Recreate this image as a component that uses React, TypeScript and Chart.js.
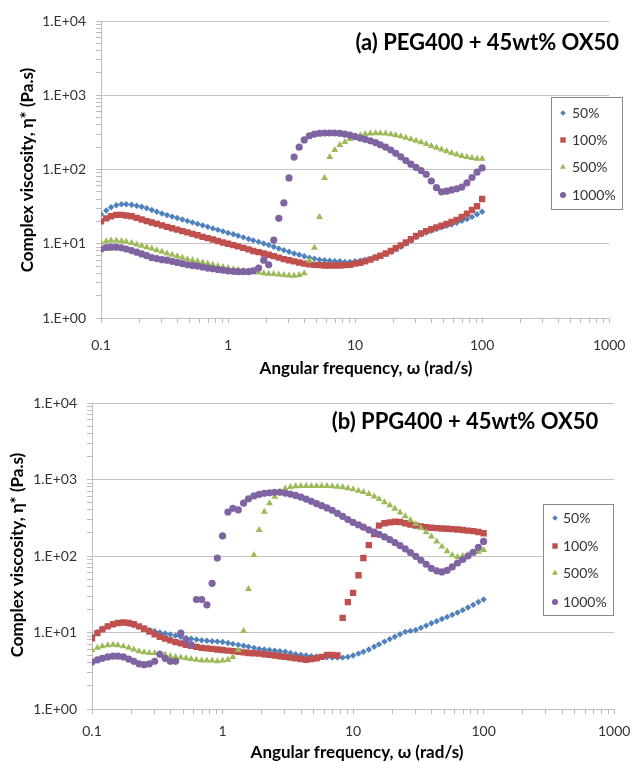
import React, { useEffect, useRef } from 'react';
import { Chart, registerables } from 'chart.js';

Chart.register(...registerables);

// ---------- data ----------
const freq = [
  0.1, 0.11, 0.12, 0.132, 0.145, 0.158, 0.174, 0.191, 0.209, 0.229,
  0.251, 0.275, 0.302, 0.331, 0.363, 0.398, 0.437, 0.479, 0.525, 0.575,
  0.631, 0.692, 0.759, 0.832, 0.912, 1, 1.1, 1.2, 1.32, 1.45,
  1.58, 1.74, 1.91, 2.09, 2.29, 2.51, 2.75, 3.02, 3.31, 3.63,
  3.98, 4.37, 4.79, 5.25, 5.75, 6.31, 6.92, 7.59, 8.32, 9.12,
  10, 11, 12, 13.2, 14.5, 15.8, 17.4, 19.1, 20.9, 22.9,
  25.1, 27.5, 30.2, 33.1, 36.3, 39.8, 43.7, 47.9, 52.5, 57.5,
  63.1, 69.2, 75.9, 83.2, 91.2, 100,
];

// (a) PEG400 + 45wt% OX50
const peg50 = [
  25, 28, 31, 33, 34, 34, 33.5, 32.5, 31.5, 30,
  28.5, 27, 25.5, 24.3, 23.2, 22.2, 21.2, 20.3, 19.4, 18.5,
  17.7, 16.9, 16.1, 15.4, 14.7, 14, 13.4, 12.8, 12.2, 11.6,
  11.1, 10.6, 10.1, 9.6, 9.1, 8.6, 8.2, 7.8, 7.4, 7.1,
  6.8, 6.5, 6.3, 6.1, 6.0, 5.9, 5.8, 5.8, 5.7, 5.7,
  5.8, 5.9, 6.1, 6.3, 6.6, 6.9, 7.3, 7.8, 8.4, 9.1,
  10, 11, 12.2, 13.3, 14.2, 15, 15.8, 16.6, 17.4, 18.2,
  19.2, 20.3, 21.5, 23, 25, 27,
];
const peg100 = [
  20, 22, 23.5, 24.5, 24.5, 24, 23.5, 22.3, 21.2, 20.2,
  19.3, 18.5, 17.7, 16.9, 16.2, 15.5, 14.8, 14.2, 13.6, 13.0,
  12.4, 11.9, 11.4, 10.9, 10.4, 10.0, 9.6, 9.2, 8.8, 8.4,
  8.0, 7.7, 7.4, 7.1, 6.8, 6.5, 6.2, 6.0, 5.8, 5.6,
  5.4, 5.3, 5.2, 5.15, 5.1, 5.1, 5.1, 5.1, 5.15, 5.2,
  5.4, 5.55, 5.8, 6.1, 6.5, 6.9, 7.4, 8.0, 8.7, 9.5,
  10.4, 11.5, 12.7, 13.8, 14.8, 15.7, 16.6, 17.5, 18.5, 19.7,
  21, 23, 25.5, 28.5, 32, 40,
];
const peg500 = [
  10.3, 10.8, 11.1, 11.1, 10.9, 10.6, 10.2, 9.8, 9.4, 9.0,
  8.6, 8.2, 7.8, 7.4, 7.1, 6.8, 6.5, 6.2, 6.0, 5.8,
  5.6, 5.4, 5.2, 5.0, 4.85, 4.7, 4.55, 4.45, 4.35, 4.25,
  4.15, 4.1, 4.0, 3.95, 3.9, 3.85, 3.8, 3.75, 3.7, 3.8,
  4.0, 5.9, 8.8, 23, 77, 147, 183, 214, 235, 257,
  273, 290, 300, 305, 308, 308, 305, 298, 290, 280,
  268, 256, 244, 232, 220, 208, 197, 186, 176, 167,
  159, 152, 147, 143, 140, 140,
];
const peg1000 = [
  8.5, 8.9, 9.0, 9.0, 8.8, 8.5, 8.1, 7.7, 7.3, 6.9,
  6.5, 6.3, 6.1, 6.0, 5.8, 5.6, 5.4, 5.2, 5.1, 5.0,
  4.85, 4.7, 4.6, 4.5, 4.4, 4.3, 4.25, 4.2, 4.2, 4.2,
  4.3, 4.7, 6.0, 5.2, 11.2, 22, 35.5, 77, 147, 200,
  250, 285, 300, 308, 310, 310, 310, 308, 300, 290,
  278, 265, 255, 243, 230, 215, 200, 183, 165, 148,
  132, 118, 107, 97, 86, 70, 57, 50, 51, 53,
  55, 58, 66, 78, 92, 105,
];

// (b) PPG400 + 45wt% OX50
const ppg50 = [
  9.0, 10.2, 11.2, 12.1, 12.8, 13.2, 13.3, 13.0, 12.5, 11.9,
  11.3, 10.8, 10.4, 10.0, 9.7, 9.4, 9.1, 8.8, 8.5, 8.3,
  8.1, 7.9, 7.8, 7.7, 7.6, 7.5, 7.3, 7.1, 6.9, 6.7,
  6.5, 6.3, 6.1, 6.0, 5.9, 5.8, 5.7, 5.6, 5.4, 5.2,
  5.1, 5.0, 4.9, 4.85, 4.8, 4.75, 4.7, 4.7, 4.7, 4.8,
  5.0, 5.3, 5.6, 6.0, 6.5, 7.0, 7.6, 8.2, 8.8, 9.5,
  10.2, 10.5, 10.8, 11.5, 12.3, 13.2, 14.0, 15.0, 16.0, 17.0,
  18.2, 19.6, 21.2, 23, 25, 27,
];
const ppg100 = [
  8.4, 9.8, 11, 12, 12.8, 13.3, 13.5, 13.3, 12.8, 12.0,
  11.2, 10.3, 9.5, 8.8, 8.3, 7.9, 7.5, 7.2, 6.9, 6.7,
  6.5, 6.3, 6.2, 6.1, 6.0, 5.9, 5.8, 5.7, 5.6, 5.5,
  5.4, 5.35, 5.3, 5.2, 5.1, 5.0, 4.9, 4.8, 4.7, 4.6,
  4.5, 4.4, 4.5, 4.6, 4.8, 5.1, 5.1, 5.0, 15.5, 25,
  33, 56, 94, 139, 194, 250, 268, 275, 280, 278,
  268, 258, 250, 243, 238, 234, 231, 229, 227, 225,
  222, 219, 215, 211, 206, 198,
];
const ppg500 = [
  5.9, 6.3, 6.6, 6.8, 6.9, 6.8, 6.6, 6.3, 6.0, 5.7,
  5.5, 5.4, 5.4, 5.3, 5.1, 4.9, 4.8, 4.7, 4.6, 4.5,
  4.4, 4.3, 4.3, 4.3, 4.2, 4.3, 4.4, 4.8, 5.9, 10.5,
  37, 103, 218, 380, 490, 595, 690, 765, 800, 815,
  820, 825, 825, 825, 825, 820, 815, 805, 790, 770,
  745, 715, 685, 645, 600, 555, 505, 460, 415, 370,
  330, 295, 262, 232, 205, 180, 155, 133, 115, 102,
  97, 100, 104, 108, 113, 120,
];
const ppg1000 = [
  4.1, 4.4, 4.6, 4.8, 4.9, 4.9, 4.8, 4.5, 4.2, 3.9,
  3.8, 3.9, 4.2, 5.2, 4.6, 4.2, 4.2, 9.8, 8.0, 6.9,
  27, 27, 23, 44, 94, 183, 376, 420, 400, 490,
  560, 610, 640, 660, 670, 680, 680, 665, 645, 620,
  590, 555, 520, 485, 455, 425, 395, 360, 330, 300,
  275, 255, 238, 220, 206, 192, 178, 164, 150, 137,
  124, 111, 99, 88, 78, 69, 64, 62, 65, 72,
  81, 90, 100, 112, 130, 155,
];

const seriesLabels = ['50%', '100%', '500%', '1000%'];
const xTickLabels = ['0.1', '1', '10', '100', '1000'];
const yTickLabels = ['1.E+00', '1.E+01', '1.E+02', '1.E+03', '1.E+04'];
const xAxisTitle = 'Angular frequency, \u03c9 (rad/s)';
const yAxisTitle = 'Complex viscosity, \u03b7* (Pa.s)';
const titleA = '(a) PEG400 + 45wt% OX50';
const titleB = '(b) PPG400 + 45wt% OX50';

// ---------- styles ----------
const COLORS = ['#4F81BD', '#C0504D', '#9BBB59', '#8064A2'];
const SHAPES = ['rectRot', 'rect', 'triangle', 'circle'];
const RADII = [3.2, 4.5, 4, 3.6];
const FONT = 'Lato, "Noto Sans", sans-serif';
const GRID = '#c4c4c4';
const AXIS = '#bdbdbd';

const W = 639;
const H = 381;

type Panel = {
  left: number; right: number; plotTop: number; plotBottom: number;
  xTickPad: number;
  xTitleX: number; xTitleY: number; yTitleX: number; yTitleY: number;
  title: string; titleX: number; titleY: number; titleAlign: CanvasTextAlign;
  legX: number; legY: number; legW: number; legH: number; rows: number[];
  markX: number; textX: number;
};

const panelA: Panel = {
  left: 101, right: 616, plotTop: 21, plotBottom: 318,
  xTickPad: 13.6,
  xTitleX: 366, xTitleY: 369, yTitleX: 28, yTitleY: 170,
  title: titleA, titleX: 619, titleY: 43, titleAlign: 'right',
  legX: 551, legY: 97, legW: 71, legH: 112, rows: [113, 140, 167, 195],
  markX: 563, textX: 572,
};
const panelB: Panel = {
  left: 92, right: 623, plotTop: 22, plotBottom: 328,
  xTickPad: 8.6,
  xTitleX: 357, xTitleY: 372, yTitleX: 18, yTitleY: 174,
  title: titleB, titleX: 465, titleY: 41, titleAlign: 'center',
  legX: 543, legY: 123, legW: 70, legH: 111, rows: [137, 165, 192, 221],
  markX: 555, textX: 563,
};

function logTicks(minExp: number, maxExp: number): number[] {
  const out: number[] = [];
  for (let e = minExp; e < maxExp; e++) {
    for (let m = 1; m <= 9; m++) out.push(m * Math.pow(10, e));
  }
  out.push(Math.pow(10, maxExp));
  return out;
}
function decadeIndex(v: number): number | null {
  const l = Math.log10(v);
  const r = Math.round(l);
  return Math.abs(l - r) < 1e-6 ? r : null;
}

function drawMarker(ctx: CanvasRenderingContext2D, shape: string, x: number, y: number, r: number) {
  ctx.beginPath();
  if (shape === 'circle') {
    ctx.arc(x, y, r, 0, Math.PI * 2);
  } else if (shape === 'rect') {
    const s = r * Math.SQRT1_2;
    ctx.rect(x - s, y - s, 2 * s, 2 * s);
  } else if (shape === 'rectRot') {
    ctx.moveTo(x, y - r); ctx.lineTo(x + r, y); ctx.lineTo(x, y + r); ctx.lineTo(x - r, y);
    ctx.closePath();
  } else if (shape === 'triangle') {
    for (let k = 0; k < 3; k++) {
      const a = (k * 2 * Math.PI) / 3;
      const px = x + Math.sin(a) * r;
      const py = y - Math.cos(a) * r;
      if (k === 0) ctx.moveTo(px, py); else ctx.lineTo(px, py);
    }
    ctx.closePath();
  }
  ctx.fill();
}

function makeOverlay(p: Panel) {
  return {
    id: 'overlay',
    afterDraw(chart: any) {
      const ctx: CanvasRenderingContext2D = chart.ctx;
      ctx.save();
      // axis titles
      ctx.fillStyle = '#000';
      ctx.font = `bold 17px ${FONT}`;
      ctx.textAlign = 'center';
      ctx.textBaseline = 'middle';
      ctx.fillText(xAxisTitle, p.xTitleX, p.xTitleY);
      ctx.save();
      ctx.translate(p.yTitleX, p.yTitleY);
      ctx.rotate(-Math.PI / 2);
      ctx.fillText(yAxisTitle, 0, 0);
      ctx.restore();
      // panel title
      ctx.font = `bold 22px ${FONT}`;
      ctx.fillStyle = '#000';
      ctx.textAlign = p.titleAlign;
      ctx.textBaseline = 'middle';
      ctx.fillText(p.title, p.titleX, p.titleY);
      // legend box
      ctx.fillStyle = '#fff';
      ctx.fillRect(p.legX, p.legY, p.legW, p.legH);
      ctx.strokeStyle = '#8a8a8a';
      ctx.lineWidth = 1;
      ctx.strokeRect(p.legX + 0.5, p.legY + 0.5, p.legW, p.legH);
      ctx.font = `14px ${FONT}`;
      ctx.textAlign = 'left';
      seriesLabels.forEach((lab, i) => {
        ctx.fillStyle = COLORS[i];
        drawMarker(ctx, SHAPES[i], p.markX, p.rows[i], RADII[i] * 0.85);
        ctx.fillStyle = '#333';
        ctx.fillText(lab, p.textX, p.rows[i]);
      });
      ctx.restore();
    },
  };
}

function buildChart(canvas: HTMLCanvasElement, p: Panel, series: number[][]) {
  const xt = logTicks(-1, 3);
  const yt = logTicks(0, 4);
  return new Chart(canvas, {
    type: 'scatter',
    data: {
      datasets: series.map((ys, i) => ({
        label: seriesLabels[i],
        data: freq.map((x, j) => ({ x, y: ys[j] })).filter((d) => d.y != null),
        pointStyle: SHAPES[i] as any,
        pointRadius: RADII[i],
        pointHoverRadius: RADII[i],
        backgroundColor: COLORS[i],
        borderColor: COLORS[i],
        borderWidth: 0,
        showLine: false,
        order: 4 - i,
      })),
    },
    options: {
      responsive: false,
      animation: false,
      devicePixelRatio: 1,
      events: [],
      layout: { padding: { left: 0, top: p.plotTop, right: W - p.right, bottom: 0 } },
      plugins: { legend: { display: false }, tooltip: { enabled: false }, title: { display: false } },
      scales: {
        x: {
          type: 'logarithmic',
          position: 'bottom',
          min: 0.1,
          max: 1000,
          afterBuildTicks: (s: any) => { s.ticks = xt.map((v) => ({ value: v })); },
          afterFit: (s: any) => { s.height = H - p.plotBottom; },
          ticks: {
            autoSkip: false,
            maxRotation: 0,
            padding: p.xTickPad,
            color: '#333',
            font: { family: FONT, size: 14 },
            callback: (v: any) => {
              const d = decadeIndex(Number(v));
              return d === null ? '' : xTickLabels[d + 1];
            },
          },
          grid: { drawOnChartArea: false, tickLength: 5, tickColor: AXIS, lineWidth: 1 },
          border: { color: AXIS, width: 1 },
          title: { display: false },
        },
        y: {
          type: 'logarithmic',
          position: 'left',
          min: 1,
          max: 10000,
          afterBuildTicks: (s: any) => { s.ticks = yt.map((v) => ({ value: v })); },
          afterFit: (s: any) => { s.width = p.left; },
          ticks: {
            autoSkip: false,
            padding: 10,
            color: '#333',
            font: { family: FONT, size: 14 },
            callback: (v: any) => {
              const d = decadeIndex(Number(v));
              return d === null ? '' : yTickLabels[d];
            },
          },
          grid: {
            color: (c: any) => (c.tick && decadeIndex(c.tick.value) !== null ? GRID : 'rgba(0,0,0,0)'),
            tickColor: AXIS,
            tickLength: 5,
            lineWidth: 1,
          },
          border: { color: AXIS, width: 1 },
          title: { display: false },
        },
      },
    } as any,
    plugins: [makeOverlay(p)],
  });
}

export default function App() {
  const refA = useRef<HTMLCanvasElement>(null);
  const refB = useRef<HTMLCanvasElement>(null);
  useEffect(() => {
    const a = buildChart(refA.current as HTMLCanvasElement, panelA, [peg50, peg100, peg500, peg1000]);
    const b = buildChart(refB.current as HTMLCanvasElement, panelB, [ppg50, ppg100, ppg500, ppg1000]);
    return () => {
      a.destroy();
      b.destroy();
    };
  }, []);
  return (
    <div style={{ position: 'absolute', left: 0, top: 0, width: W, height: 2 * H, background: '#fff' }}>
      <canvas ref={refA} width={W} height={H} style={{ position: 'absolute', left: 0, top: 0, width: W, height: H }} />
      <canvas ref={refB} width={W} height={H} style={{ position: 'absolute', left: 0, top: H, width: W, height: H }} />
    </div>
  );
}
